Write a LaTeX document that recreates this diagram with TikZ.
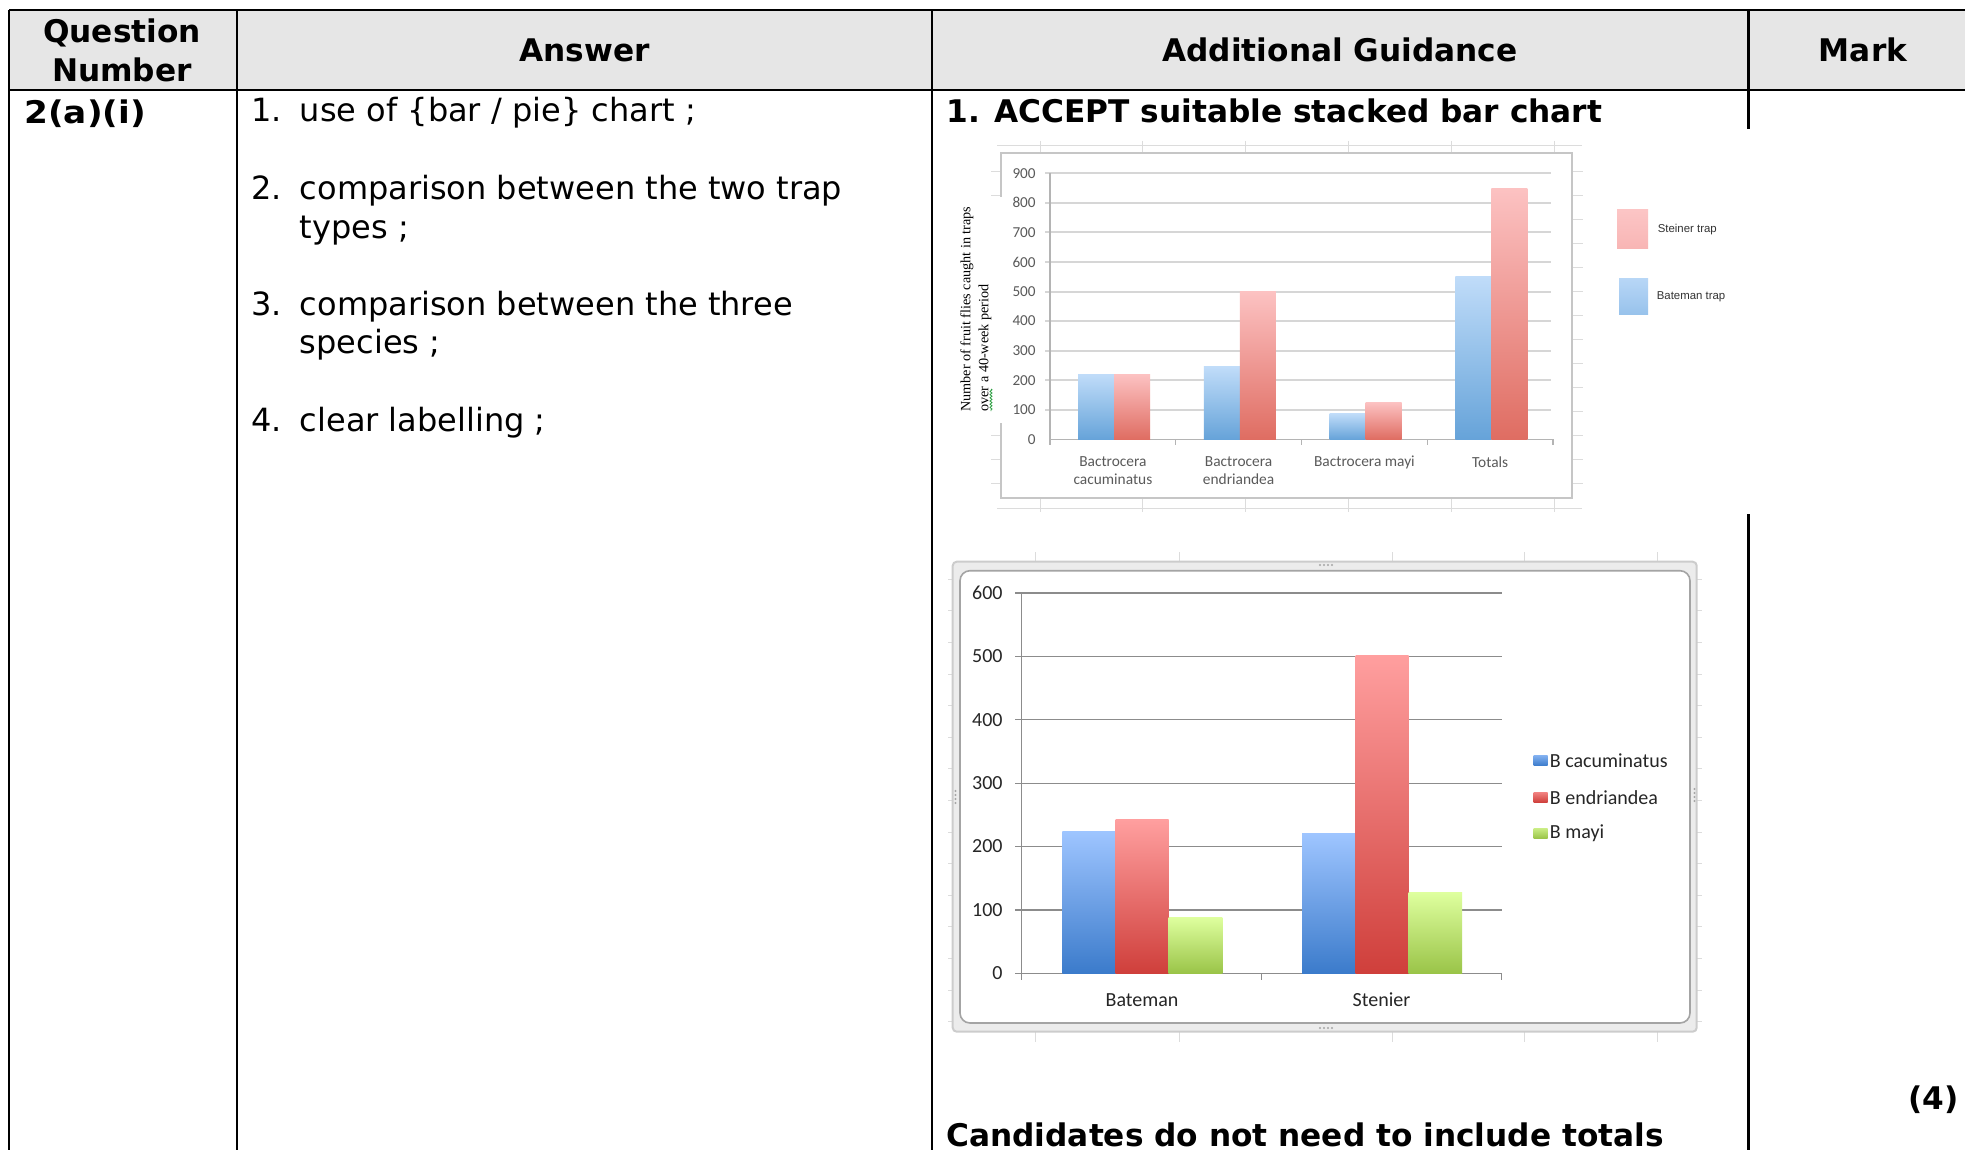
\documentclass[tikz,border=0pt]{standalone}
\usepackage{fontspec}
\setmainfont{DejaVu Sans}
\newfontfamily\chartfont{Carlito}
\newfontfamily\titlefont{Liberation Serif}
\newfontfamily\keyfont{Liberation Sans}
\usepackage[HTML]{xcolor}
\usepackage{tikz}
\usetikzlibrary{positioning, decorations.pathmorphing}

\definecolor{headgray}{HTML}{E6E6E6}
\definecolor{sheetgray}{HTML}{DCDCDC}
\definecolor{frameA}{HTML}{C6C6C6}
\definecolor{gridA}{HTML}{D6D6D6}
\definecolor{axisA}{HTML}{B4B4B4}
\definecolor{textA}{HTML}{5A5A5A}
\definecolor{blueAtop}{HTML}{C0DCF9}
\definecolor{blueAbot}{HTML}{66A3D9}
\definecolor{redAtop}{HTML}{FCC2C2}
\definecolor{redAbot}{HTML}{DF6D62}
\definecolor{outerB}{HTML}{ECECEC}
\definecolor{outerBline}{HTML}{CCCCCC}
\definecolor{innerBline}{HTML}{A4A4A4}
\definecolor{gridB}{HTML}{8C8C8C}
\definecolor{textB}{HTML}{262626}
\definecolor{blueBtop}{HTML}{9EC5FF}
\definecolor{blueBbot}{HTML}{3B7BCB}
\definecolor{redBtop}{HTML}{FF9F9F}
\definecolor{redBbot}{HTML}{CF3F3B}
\definecolor{greenBtop}{HTML}{DEFF9E}
\definecolor{greenBbot}{HTML}{9AC448}
\definecolor{squiggle}{HTML}{2EA043}

\begin{document}
\begin{tikzpicture}[
    x=0.5pt, y=-0.5pt, % one unit is one pixel of the scan, y runs downwards
    every node/.style={inner sep=0pt},
    rule/.style={line width=1.1pt, black},
    headtext/.style={font=\bfseries\fontsize{15.6}{18}\selectfont, anchor=base},
    boldtext/.style={font=\bfseries\fontsize{15.6}{18}\selectfont, anchor=base west},
    bodytext/.style={font=\fontsize{16}{19}\selectfont, anchor=base west},
    sheetgrid/.style={draw=sheetgray, line width=0.5pt},
    ticklabelA/.style={font=\chartfont\fontsize{7.6}{9}\selectfont, text=textA, anchor=east},
    catlabelA/.style={font=\chartfont\fontsize{7.7}{9}\selectfont, text=textA, align=center},
    ytitle/.style={font=\titlefont\fontsize{7.1}{9}\selectfont, rotate=90, anchor=west},
    keyA/.style={font=\keyfont\fontsize{5.7}{7}\selectfont, text=black!80},
    ticklabelB/.style={font=\chartfont\fontsize{10}{12}\selectfont, text=textB, anchor=east},
    catlabelB/.style={font=\chartfont\fontsize{10}{12}\selectfont, text=textB},
    keyB/.style={font=\chartfont\fontsize{10}{12}\selectfont, text=textB},
    keysq/.style={minimum width=7pt, minimum height=5pt}
]
    \useasboundingbox (0,0) rectangle (1965,1150);
    \clip (0,0) rectangle (1965,1150);

    % 1. The table: header band and rules
    \fill[headgray] (9,10) rectangle (1977,90);
    \draw[rule] (9,10) -- (1977,10);
    \draw[rule] (9,90) -- (1977,90);
    \foreach \x in {9,236.7,932,1748.5,1977}
        \draw[rule] (\x,10) -- (\x,1160);

    % header texts
    \node[headtext] (qhead) at (122,43) {Question};
    \node[headtext] (nhead) at (122,81.5) {Number};
    \node[headtext] (ahead) at (584.4,61.7) {Answer};
    \node[headtext] (ghead) at (1340,61.7) {Additional Guidance};
    \node[headtext] (mhead) at (1863,61.7) {Mark};

    % 2. Question and answer column
    \node[boldtext, font=\bfseries\fontsize{15.6}{18}\selectfont\addfontfeature{FakeStretch=1.1}]
        (qnum) at (24,124) {2(a)(i)};
    \node[bodytext] (n1) at (250.6,121.7) {1.};
    \node[bodytext] (a1) at (299.5,121.7) {use of \{bar / pie\} chart ;};
    \node[bodytext] (n2) at (250.6,200) {2.};
    \node[bodytext] (a2) at (299.5,200) {comparison between the two trap};
    \node[bodytext] (a2b) at (299.5,238.5) {types ;};
    \node[bodytext] (n3) at (250.6,315) {3.};
    \node[bodytext] (a3) at (299.5,315) {comparison between the three};
    \node[bodytext] (a3b) at (299.5,353.5) {species ;};
    \node[bodytext] (n4) at (250.6,431.7) {4.};
    \node[bodytext] (a4) at (299.5,431.7) {clear labelling ;};

    % guidance and mark texts
    \node[boldtext] (accept) at (946,122.5) {1. ACCEPT suitable stacked bar chart};
    \node[boldtext] (totals) at (946,1146) {Candidates do not need to include totals};
    \node[boldtext, anchor=base east] (mark) at (1959,1109) {(4)};

    % 3. First chart (two trap types), pasted on a white canvas
    \fill[white] (940,129) rectangle (1752,514);
    \draw[sheetgrid] (997,146) -- (1582,146);
    \draw[sheetgrid] (997,508) -- (1582,508);
    \foreach \x in {1040,1142.5,1245,1348,1451,1554}
        \draw[sheetgrid] (\x,141) -- (\x,152) (\x,499) -- (\x,512);
    \foreach \y in {171.7,195.7,...,485}
        \draw[sheetgrid] (1572,\y) -- (1583,\y) (991,\y) -- (1001,\y);
    \draw[frameA, line width=1pt] (1001,152.7) rectangle (1571.7,498);

    % gridlines and value labels
    \foreach \v in {100,200,...,900}
        \draw[gridA, line width=1pt] (1045,{439.3-0.2956*\v}) -- (1551,{439.3-0.2956*\v});
    \foreach \v in {0,100,...,900}
        \node[ticklabelA] (tA\v) at (1036,{439.3-0.2956*\v}) {\v};
    \draw[axisA, line width=0.6pt] (1050,173.3) -- (1050,439.3) -- (1553,439.3);
    \foreach \k in {0,...,4}
        \draw[axisA, line width=0.6pt] ({1050+125.75*\k},439.3) -- ++(0,6);

    % bars: Bateman (blue) and Steiner (red)
    \foreach \k/\b/\r in {0/220/220, 1/245/500, 2/87/125, 3/552/848} {
        \shade[top color=blueAtop, bottom color=blueAbot]
            ({1078+125.75*\k},{439.3-0.2956*\b}) rectangle ({1114+125.75*\k},439.3);
        \shade[top color=redAtop, bottom color=redAbot]
            ({1114+125.75*\k},{439.3-0.2956*\r}) rectangle ({1150+125.75*\k},439.3);
    }

    % category labels
    \node[catlabelA] (catcac) at (1112.9,471) {Bactrocera\\cacuminatus};
    \node[catlabelA] (catend) at (1238.6,471) {Bactrocera\\endriandea};
    \node[catlabelA] (catmay) at (1364.4,462) {Bactrocera mayi};
    \node[catlabelA] (cattot) at (1490.1,462) {Totals};

    % axis title, on its own white box
    \fill[white] (955,197) rectangle (1003,423);
    \node[ytitle] (ytitle) at (967,412) {Number of fruit flies caught in traps};
    \node[ytitle] (ytitleb) at (985,412) {over a 40-week period};
    \draw[squiggle, line width=0.4pt, decorate,
        decoration={zigzag, amplitude=0.5pt, segment length=1.6pt}] (991,389) -- (991,411);

    % legend
    \node[minimum width=15.5pt, minimum height=19.5pt, top color=redAtop!95!white,
        bottom color=redAtop!85!redAbot] (sqsteiner) at (1632.5,229.5) {};
    \node[keyA, right=4.5pt of sqsteiner] (keysteiner) {Steiner trap};
    \node[minimum width=14.5pt, minimum height=18pt, top color=blueAtop!90!blueAbot,
        bottom color=blueAtop!55!blueAbot] (sqbateman) at (1633.5,297) {};
    \node[keyA, right=4pt of sqbateman] (keybateman) {Bateman trap};

    % 4. Second chart (three species), with its selection frame
    \foreach \x in {1035,1179.3,1392.3,1524,1657.7}
        \draw[sheetgrid] (\x,552) -- (\x,562) (\x,1032) -- (\x,1042);
    \foreach \y in {579.3,610.9,...,1023}
        \draw[sheetgrid] (948,\y) -- (953,\y) (1697,\y) -- (1702,\y);
    \draw[fill=outerB, draw=outerBline, line width=1pt, rounded corners=2pt]
        (952.7,561.7) rectangle (1696.7,1031.7);
    \draw[fill=white, draw=innerBline, line width=0.8pt, rounded corners=5pt]
        (960,570.7) rectangle (1690,1023);
    \foreach \d in {-6,-2,2,6} {
        \fill[gray!70] (1326+\d,565) circle (0.6pt);
        \fill[gray!70] (1326+\d,1028) circle (0.6pt);
        \fill[gray!70] (955.5,797+\d) circle (0.6pt);
        \fill[gray!70] (1694.5,795+\d) circle (0.6pt);
    }

    % gridlines and value labels
    \foreach \v in {100,200,...,600}
        \draw[gridB, line width=0.6pt] (1015,{973.3-0.634*\v}) -- (1501.7,{973.3-0.634*\v});
    \foreach \v in {0,100,...,600}
        \node[ticklabelB] (tB\v) at (1003,{973.3-0.634*\v}) {\v};
    \draw[gridB, line width=0.6pt] (1021.7,592.7) -- (1021.7,980);
    \draw[gridB, line width=0.6pt] (1015,973.3) -- (1501.7,973.3);
    \foreach \x in {1261.7,1501.7}
        \draw[gridB, line width=0.6pt] (\x,973.3) -- (\x,980);

    % bars: cacuminatus, endriandea, mayi
    \foreach \k/\c/\e/\m in {0/224/243/88, 1/220/502/127} {
        \shade[top color=blueBtop, bottom color=blueBbot]
            ({1062.4+239.8*\k},{973.3-0.634*\c}) rectangle ({1115.7+239.8*\k},973.3);
        \shade[top color=redBtop, bottom color=redBbot]
            ({1115.7+239.8*\k},{973.3-0.634*\e}) rectangle ({1168.7+239.8*\k},973.3);
        \shade[top color=greenBtop, bottom color=greenBbot]
            ({1168.7+239.8*\k},{973.3-0.634*\m}) rectangle ({1222.3+239.8*\k},973.3);
    }

    % category labels
    \node[catlabelB] (catbateman) at (1142,1000) {Bateman};
    \node[catlabelB] (catstenier) at (1381.5,1000) {Stenier};

    % legend
    \node[keysq, top color=blueBtop!70!blueBbot, bottom color=blueBbot] (sqcac) at (1540.5,760.7) {};
    \node[keyB, right=0.8pt of sqcac] (keycac) {B cacuminatus};
    \node[keysq, top color=redBtop!70!redBbot, bottom color=redBbot] (sqend) at (1540.5,797.3) {};
    \node[keyB, right=0.8pt of sqend] (keyend) {B endriandea};
    \node[keysq, top color=greenBtop!70!greenBbot, bottom color=greenBbot] (sqmay) at (1540.5,833.3) {};
    \node[keyB, right=0.8pt of sqmay] (keymay) {B mayi};

\end{tikzpicture}
\end{document}
